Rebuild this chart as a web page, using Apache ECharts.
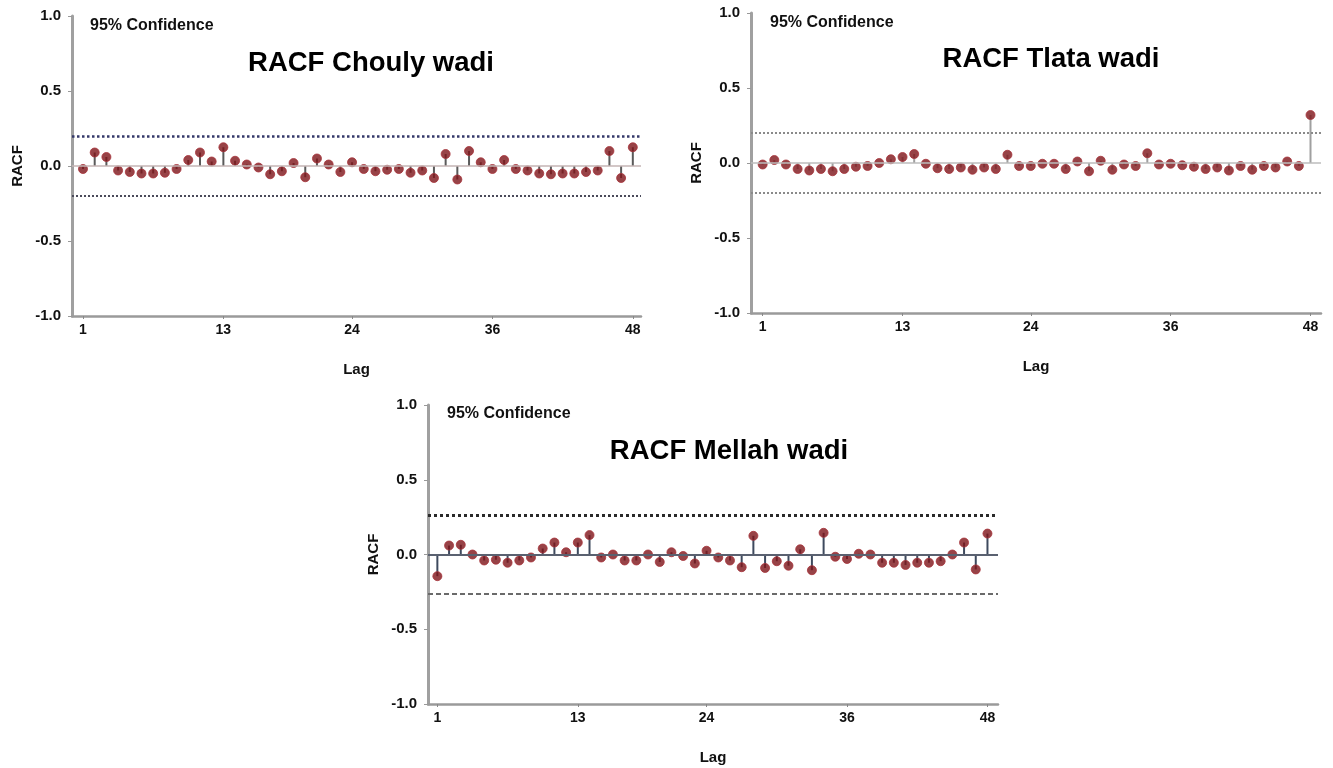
<!DOCTYPE html>
<html lang="en">
<head>
  <meta charset="UTF-8" />
  <title>RACF wadi</title>
  <script src="https://cdn.jsdelivr.net/npm/echarts@6/dist/echarts.min.js"></script>
  <style>
    body { margin: 0; background: #fff; }
    #chart { width: 1333px; height: 768px; }
  </style>
</head>
<body>
  <div id="chart"></div>
  <script>
    const lags = [1, 2, 3, 4, 5, 6, 7, 8, 9, 10, 11, 12, 13, 14, 15, 16, 17, 18, 19, 20, 21, 22, 23, 24,
      25, 26, 27, 28, 29, 30, 31, 32, 33, 34, 35, 36, 37, 38, 39, 40, 41, 42, 43, 44, 45, 46, 47, 48];
    const lagTicks = [1, 13, 24, 36, 48];

    const chouly = [-0.02, 0.09, 0.06, -0.03, -0.04, -0.05, -0.05, -0.045, -0.02, 0.04, 0.09, 0.03,
      0.125, 0.035, 0.01, -0.01, -0.055, -0.035, 0.02, -0.075, 0.05, 0.01, -0.04, 0.025,
      -0.02, -0.035, -0.025, -0.02, -0.045, -0.03, -0.08, 0.08, -0.09, 0.1, 0.025, -0.02,
      0.04, -0.02, -0.03, -0.05, -0.055, -0.05, -0.05, -0.04, -0.03, 0.1, -0.08, 0.125];
    const tlata = [-0.01, 0.02, -0.01, -0.04, -0.05, -0.04, -0.055, -0.04, -0.025, -0.02, 0.0, 0.025,
      0.04, 0.06, -0.005, -0.035, -0.04, -0.03, -0.045, -0.03, -0.04, 0.055, -0.02, -0.02,
      -0.005, -0.005, -0.04, 0.01, -0.055, 0.015, -0.045, -0.01, -0.02, 0.065, -0.01, -0.005,
      -0.015, -0.025, -0.04, -0.03, -0.05, -0.02, -0.045, -0.02, -0.03, 0.01, -0.02, 0.32];
    const mellah = [-0.145, 0.06, 0.065, 0.0, -0.04, -0.035, -0.055, -0.04, -0.02, 0.04, 0.08, 0.015,
      0.08, 0.13, -0.02, 0.0, -0.04, -0.04, 0.0, -0.05, 0.015, -0.01, -0.06, 0.025,
      -0.02, -0.04, -0.085, 0.125, -0.09, -0.045, -0.075, 0.035, -0.105, 0.145, -0.015, -0.03,
      0.005, 0.0, -0.055, -0.055, -0.07, -0.055, -0.055, -0.045, 0.0, 0.08, -0.1, 0.14];

    const confChouly = 0.2;
    const confTlata = 0.2;
    const confMellah = 0.26;

    const panels = [
      { name: 'RACF Chouly wadi', values: chouly, conf: confChouly,
        grid: { left: 72, top: 16, width: 569, height: 300 }, xmin: 0.06, xmax: 48.7,
        title: [371, 63], note: [90, 26],
        stem: '#5a5a5a', zero: '#c4b4b4', zeroW: 1.5,
        confTop: { color: '#34386a', width: 2.5, type: 'dotted' },
        confBot: { color: '#4a4a5a', width: 2, type: 'dotted' } },
      { name: 'RACF Tlata wadi', values: tlata, conf: confTlata,
        grid: { left: 751, top: 13, width: 570, height: 300 }, xmin: 0.0, xmax: 48.9,
        title: [1051, 59], note: [770, 23],
        stem: '#a0a0a0', zero: '#bdbdbd', zeroW: 1.5,
        confTop: { color: '#8a8a8a', width: 2, type: 'dotted' },
        confBot: { color: '#8a8a8a', width: 2, type: 'dotted' } },
      { name: 'RACF Mellah wadi', values: mellah, conf: confMellah,
        grid: { left: 428, top: 405, width: 570, height: 299 }, xmin: 0.2, xmax: 48.9,
        title: [729, 451], note: [447, 414],
        stem: '#3e4a5e', zero: '#5a6170', zeroW: 2,
        confTop: { color: '#2a2a2a', width: 3, type: 'dotted' },
        confBot: { color: '#6a6a6a', width: 2, type: [5, 3] } }
    ];

    const chart = echarts.init(document.getElementById('chart'));
    const font = 'Liberation Sans, Arial, sans-serif';

    const grids = [], xAxes = [], yAxes = [], series = [], texts = [];
    panels.forEach((p, i) => {
      grids.push(p.grid);
      xAxes.push({
        type: 'value', gridIndex: i, min: p.xmin, max: p.xmax,
        name: 'Lag', nameLocation: 'middle', nameGap: 46,
        nameTextStyle: { fontFamily: font, fontWeight: 'bold', fontSize: 15, color: '#111' },
        axisLine: { onZero: false, lineStyle: { color: '#9a9a9a', width: 2.5 } },
        axisTick: { show: true, customValues: lagTicks, length: 3, lineStyle: { color: '#888' } },
        axisLabel: { customValues: lagTicks, fontFamily: font, fontWeight: 'bold', fontSize: 14, color: '#111', margin: 7 },
        splitLine: { show: false }
      });
      yAxes.push({
        type: 'value', gridIndex: i, min: -1, max: 1, interval: 0.5,
        name: 'RACF', nameLocation: 'middle', nameGap: 47,
        nameTextStyle: { fontFamily: font, fontWeight: 'bold', fontSize: 15, color: '#111' },
        axisLine: { show: true, lineStyle: { color: '#a0a0a0', width: 3 } },
        axisTick: { show: true, length: 4, lineStyle: { color: '#999' } },
        axisLabel: { fontFamily: font, fontWeight: 'bold', fontSize: 15, color: '#111', margin: 11,
          formatter: v => v.toFixed(1) },
        splitLine: { show: false }
      });
      const pts = lags.map((l, k) => [l, p.values[k]]);
      series.push({
        type: 'bar', xAxisIndex: i, yAxisIndex: i, data: pts, barWidth: 2,
        itemStyle: { color: p.stem }, silent: true, z: 2,
        markLine: {
          silent: true, symbol: 'none', label: { show: false },
          data: [
            { yAxis: 0, lineStyle: { color: p.zero, width: p.zeroW, type: 'solid' } },
            { yAxis: p.conf, lineStyle: p.confTop },
            { yAxis: -p.conf, lineStyle: p.confBot }
          ]
        }
      });
      series.push({
        type: 'scatter', xAxisIndex: i, yAxisIndex: i, data: pts, symbolSize: 9, z: 4,
        itemStyle: { color: '#7d1419', borderColor: '#a8323a', borderWidth: 1 }
      });
      texts.push({
        type: 'text', x: p.title[0], y: p.title[1],
        style: { text: p.name, fontFamily: font, fontWeight: 'bold', fontSize: 27.5, fill: '#000',
          textAlign: 'center', textVerticalAlign: 'middle' }
      });
      texts.push({
        type: 'text', x: p.note[0], y: p.note[1],
        style: { text: '95% Confidence', fontFamily: font, fontWeight: 'bold', fontSize: 16, fill: '#111',
          textAlign: 'left', textVerticalAlign: 'middle' }
      });
    });

    chart.setOption({
      animation: false,
      grid: grids,
      xAxis: xAxes,
      yAxis: yAxes,
      series: series,
      graphic: texts
    });
  </script>
</body>
</html>
